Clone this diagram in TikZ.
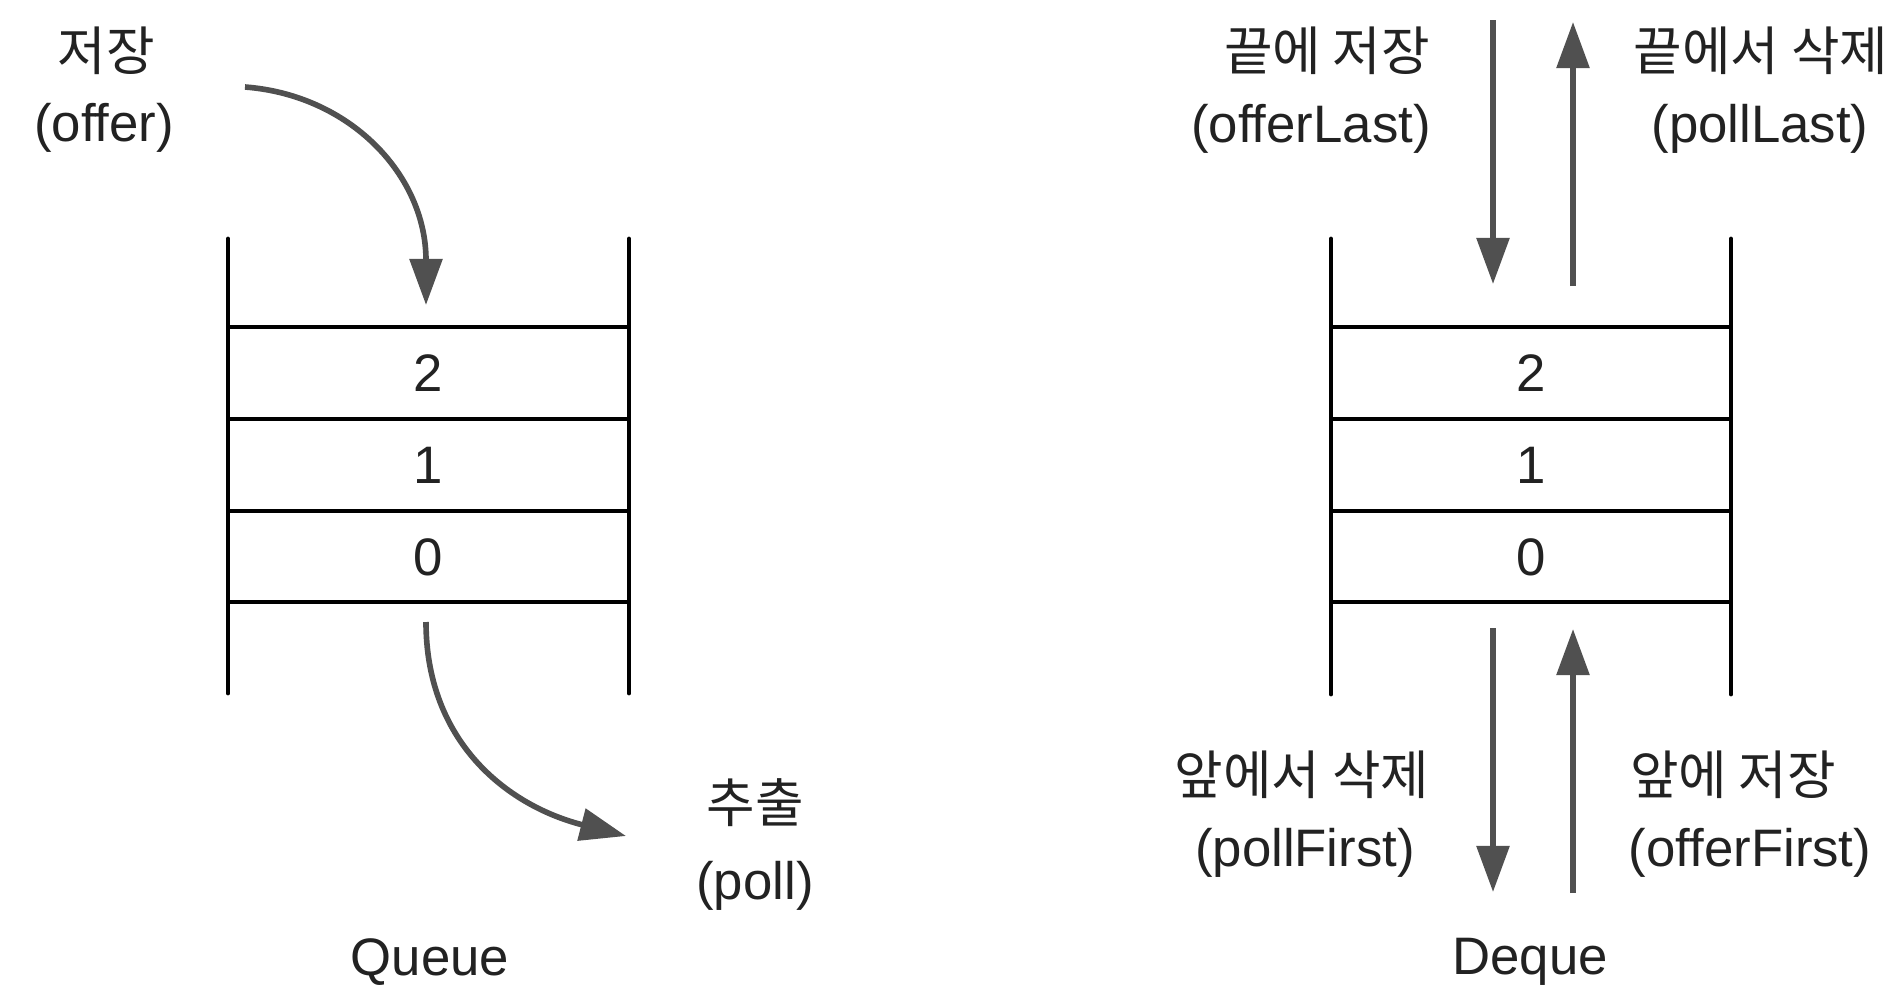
\documentclass[tikz,border=0pt]{standalone}
\usepackage{fontspec}
\setmainfont{Liberation Sans}
\newfontfamily\krfont{Noto Sans CJK KR}
\usetikzlibrary{arrows.meta}
\definecolor{arrowgray}{RGB}{80,80,80}
\definecolor{txt}{RGB}{34,34,34}
\begin{document}
\begin{tikzpicture}[x=0.01cm,y=-0.01cm,
  wall/.style={line width=1.4pt, draw=black, line cap=round},
  cell/.style={line width=1pt, draw=black},
  flow/.style={line width=1.6pt, draw=arrowgray, -{Triangle[length=4.6mm,width=3.2mm]}},
  kr/.style={font=\krfont\fontsize{15}{18}\selectfont, text=txt, inner sep=0pt},
  en/.style={font=\fontsize{15}{18}\selectfont, text=txt, inner sep=0pt},
  num/.style={font=\fontsize{15}{18}\selectfont, text=txt, inner sep=0pt}]
\path[use as bounding box, fill=white] (0,0) rectangle (1900,1000);

% ---------------- Queue ----------------
\coordinate (qTL) at (228,239); \coordinate (qBL) at (228,693);
\coordinate (qTR) at (629,239); \coordinate (qBR) at (629,693);
\draw[wall] (qTL) -- (qBL);
\draw[wall] (qTR) -- (qBR);
\foreach \yy/\nm in {327/a,419/b,511/c,602/d}{
  \coordinate (ql\nm) at (228,\yy); \coordinate (qr\nm) at (629,\yy);
  \draw[cell] (ql\nm) -- (qr\nm);
}
\node[num] (q2) at (428,373) {2};
\node[num] (q1) at (428,465) {1};
\node[num] (q0) at (428,557) {0};

\node[kr] (qoffk) at (106,51) {저장};
\node[en] (qoffe) at (104,128) {(offer)};
\node[kr] (qpollk) at (755,803) {추출};
\node[en] (qpolle) at (755,886) {(poll)};
\node[en] (qname) at (430,962) {Queue};

\coordinate (qinS) at (245,87);
\coordinate (qinE) at (426,305);
\draw[flow] (qinS) .. controls (350,95) and (426,175) .. (qinE);
\coordinate (qoutS) at (426,622);
\coordinate (qoutE) at (626,836);
\draw[flow] (qoutS) .. controls (426,740) and (505,805) .. (qoutE);

% ---------------- Deque ----------------
\coordinate (dTL) at (1331,239); \coordinate (dBL) at (1331,694);
\coordinate (dTR) at (1731,239); \coordinate (dBR) at (1731,694);
\draw[wall] (dTL) -- (dBL);
\draw[wall] (dTR) -- (dBR);
\foreach \yy/\nm in {327/a,419/b,511/c,602/d}{
  \coordinate (dl\nm) at (1331,\yy); \coordinate (dr\nm) at (1731,\yy);
  \draw[cell] (dl\nm) -- (dr\nm);
}
\node[num] (d2) at (1531,373) {2};
\node[num] (d1) at (1531,465) {1};
\node[num] (d0) at (1531,557) {0};

\node[kr] (olk) at (1327,51) {끝에 저장};
\node[en] (ole) at (1311,129) {(offerLast)};
\node[kr] (plk) at (1761,51) {끝에서 삭제};
\node[en] (ple) at (1760,129) {(pollLast)};
\node[kr] (pfk) at (1302,775) {앞에서 삭제};
\node[en] (pfe) at (1305,853) {(pollFirst)};
\node[kr] (ofk) at (1733,775) {앞에 저장};
\node[en] (ofe) at (1750,853) {(offerFirst)};
\node[en] (dname) at (1530,962) {Deque};

\coordinate (olS) at (1493,20);  \coordinate (olE) at (1493,284);
\coordinate (plS) at (1573,286); \coordinate (plE) at (1573,22);
\coordinate (pfS) at (1493,628); \coordinate (pfE) at (1493,892);
\coordinate (ofS) at (1573,893); \coordinate (ofE) at (1573,629);
\draw[flow] (olS) -- (olE);
\draw[flow] (plS) -- (plE);
\draw[flow] (pfS) -- (pfE);
\draw[flow] (ofS) -- (ofE);
\end{tikzpicture}
\end{document}
